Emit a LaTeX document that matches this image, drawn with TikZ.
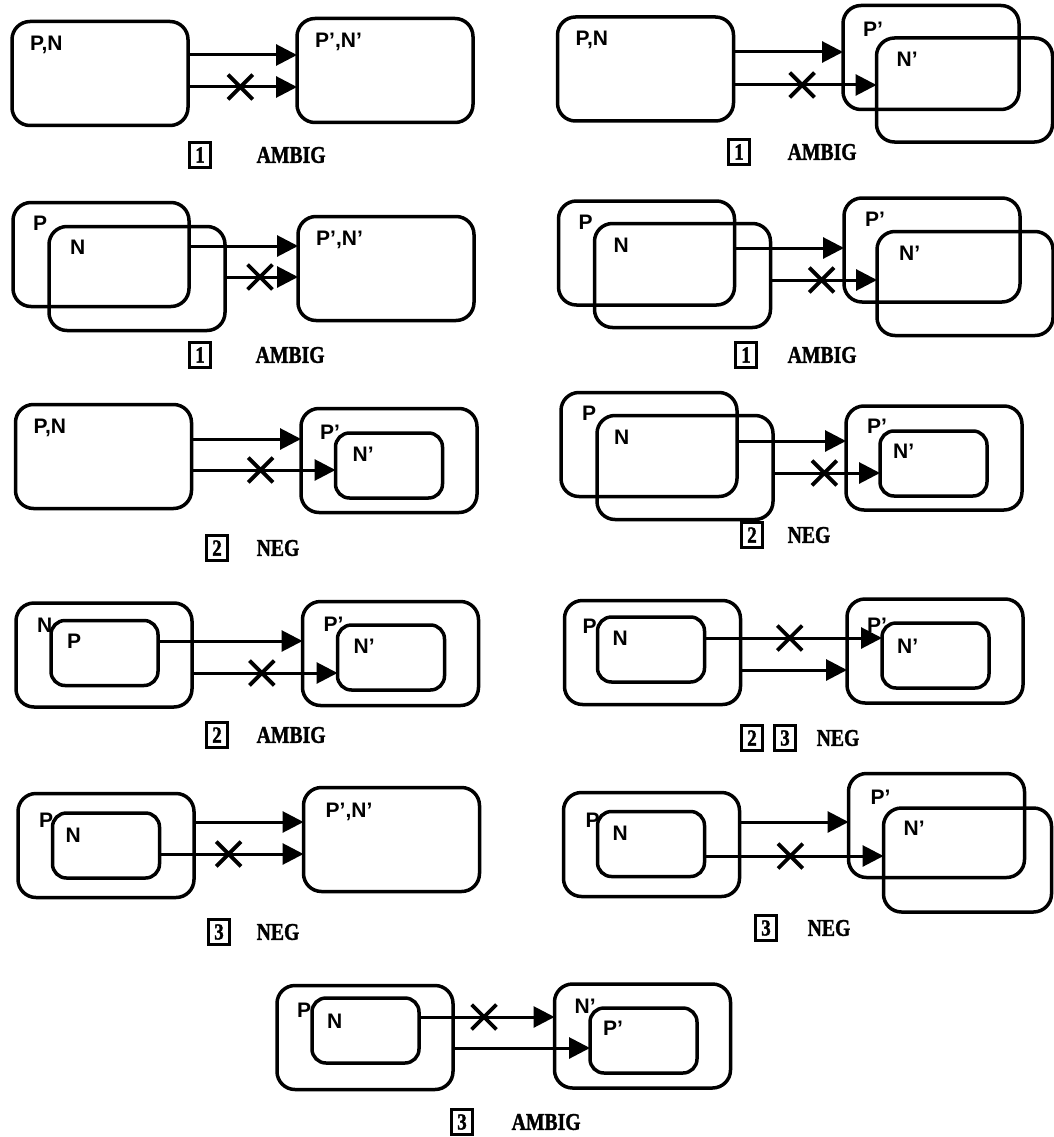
\documentclass[tikz,border=0pt]{standalone}
\usepackage{fontspec}
\setmainfont{Liberation Serif}
\setsansfont{Liberation Sans}
\newfontfamily\capfont{Liberation Serif Bold}[FakeStretch=0.82, FakeBold=1.5]
\usetikzlibrary{arrows.meta, positioning, shapes.misc}
\tikzset{
  region/.style={draw, rounded corners=18pt, line width=3.5pt, inner sep=0pt, outer sep=0pt},
  big/.style={region, minimum width=176pt, minimum height=104pt},
  small/.style={region, rounded corners=14pt, minimum width=107pt, minimum height=65pt},
  tag/.style={font=\sffamily\bfseries\fontsize{21}{21}\selectfont, inner sep=0pt},
  arrow/.style={line width=3pt, -{Triangle[length=21pt, width=21pt]}},
  xmark/.style={cross out, draw, line width=3.8pt, minimum size=21pt, inner sep=0pt, pos=0.48},
  numbox/.style={draw, line width=2.2pt, minimum width=21pt, minimum height=25pt, inner sep=0pt, outer sep=0pt, font=\capfont\fontsize{23}{23}\selectfont},
  word/.style={font=\capfont\fontsize{24}{24}\selectfont, inner sep=0pt}
}

\begin{document}
\begin{tikzpicture}[x=1pt, y=-1pt]

  \fill[white] (0,0) rectangle (1054,1137);
  \useasboundingbox (0,0) rectangle (1054,1137);

  % row 1, left
  \node (pn1) [big] at (100,73.5) {};
  \node (pnp1) [big] at (385,70.5) {};
  \node (pn1t) [tag, below right=14pt and 18pt of pn1.north west] {P,N};
  \node (pnp1t) [tag, below right=14pt and 18pt of pnp1.north west] {P',N'};
  \draw [arrow] (pn1.east |- 0,55) -- (pnp1.west |- 0,55);
  \draw [arrow] (pn1.east |- 0,87) -- node (x1) [xmark] {} (pnp1.west |- 0,87);
  \node (cap1) [numbox] at (200,155) {1};
  \node (word1) [word, right=46pt of cap1] {AMBIG};

  % row 1, right
  \node (pn2) [big] at (645.5,69) {};
  \node (pp2) [big] at (931,57.5) {};
  \node (np2) [big] at (964.5,90) {};
  \node (pn2t) [tag, below right=14pt and 18pt of pn2.north west] {P,N};
  \node (pp2t) [tag, below right=16pt and 20pt of pp2.north west] {P'};
  \node (np2t) [tag, below right=14pt and 20pt of np2.north west] {N'};
  \draw [arrow] (pn2.east |- 0,52) -- (pp2.west |- 0,52);
  \draw [arrow] (pn2.east |- 0,85) -- node (x2) [xmark] {} (np2.west |- 0,85);
  \node (cap2) [numbox] at (739,152) {1};
  \node (word2) [word, right=38pt of cap2] {AMBIG};

  % row 2, left
  \node (p3) [big] at (101,254.5) {};
  \node (n3) [big] at (137,278.5) {};
  \node (pnp3) [big] at (386,268.5) {};
  \node (p3t) [tag, below right=13pt and 20pt of p3.north west] {P};
  \node (n3t) [tag, below right=13pt and 21pt of n3.north west] {N};
  \node (pnp3t) [tag, below right=14pt and 18pt of pnp3.north west] {P',N'};
  \draw [arrow] (p3.east |- 0,246) -- (pnp3.west |- 0,246);
  \draw [arrow] (n3.east |- 0,277) -- node (x3) [xmark] {} (pnp3.west |- 0,277);
  \node (cap3) [numbox] at (200,355) {1};
  \node (word3) [word, right=45pt of cap3] {AMBIG};

  % row 2, right
  \node (p4) [big] at (646.5,253) {};
  \node (n4) [big] at (682.5,275.5) {};
  \node (pp4) [big] at (932,250) {};
  \node (np4) [big] at (965,283.5) {};
  \node (p4t) [tag, below right=14pt and 20pt of p4.north west] {P};
  \node (n4t) [tag, below right=14pt and 19pt of n4.north west] {N};
  \node (pp4t) [tag, below right=14pt and 21pt of pp4.north west] {P'};
  \node (np4t) [tag, below right=14pt and 22pt of np4.north west] {N'};
  \draw [arrow] (p4.east |- 0,248) -- (pp4.west |- 0,248);
  \draw [arrow] (n4.east |- 0,280) -- node (x4) [xmark] {} (np4.west |- 0,280);
  \node (cap4) [numbox] at (746,355) {1};
  \node (word4) [word, right=31pt of cap4] {AMBIG};

  % row 3, left
  \node (pn5) [big] at (103.5,456.5) {};
  \node (pp5) [big] at (389,460.5) {};
  \node (np5) [small] at (389,465.5) {};
  \node (pn5t) [tag, below right=14pt and 18pt of pn5.north west] {P,N};
  \node (pp5t) [tag, below right=16pt and 19pt of pp5.north west] {P'};
  \node (np5t) [tag, below right=14pt and 17pt of np5.north west] {N'};
  \draw [arrow] (pn5.east |- 0,439) -- (pp5.west |- 0,439);
  \draw [arrow] (pn5.east |- 0,470) -- node (x5) [xmark] {} (np5.west |- 0,470);
  \node (cap5) [numbox] at (217,548) {2};
  \node (word5) [word, right=29pt of cap5] {NEG};

  % row 3, right
  \node (p6) [big] at (649,444.5) {};
  \node (n6) [big] at (685,467.5) {};
  \node (pp6) [big] at (934,458) {};
  \node (np6) [small] at (933.5,463.5) {};
  \node (p6t) [tag, below right=13pt and 21pt of p6.north west] {P};
  \node (n6t) [tag, below right=14pt and 17pt of n6.north west] {N};
  \node (pp6t) [tag, below right=13pt and 21pt of pp6.north west] {P'};
  \node (np6t) [tag, below right=13pt and 13pt of np6.north west] {N'};
  \draw [arrow] (p6.east |- 0,441) -- (pp6.west |- 0,441);
  \draw [arrow] (n6.east |- 0,473) -- node (x6) [xmark] {} (np6.west |- 0,473);
  \node (cap6) [numbox] at (752,535) {2};
  \node (word6) [word, right=25pt of cap6] {NEG};

  % row 4, left
  \node (n7) [big] at (104,655) {};
  \node (p7) [small] at (104.5,653) {};
  \node (pp7) [big] at (390.5,653.5) {};
  \node (np7) [small] at (391,657.5) {};
  \node (n7t) [tag, below right=15pt and 21pt of n7.north west] {N};
  \node (p7t) [tag, below right=13pt and 16pt of p7.north west] {P};
  \node (pp7t) [tag, below right=15pt and 21pt of pp7.north west] {P'};
  \node (np7t) [tag, below right=14pt and 16pt of np7.north west] {N'};
  \draw [arrow] (p7.east |- 0,641) -- (pp7.west |- 0,641);
  \draw [arrow] (n7.east |- 0,673) -- node (x7) [xmark] {} (np7.west |- 0,673);
  \node (cap7) [numbox] at (217,735) {2};
  \node (word7) [word, right=29pt of cap7] {AMBIG};

  % row 4, right
  \node (p8) [big] at (652.5,652.5) {};
  \node (n8) [small] at (651,649.5) {};
  \node (pp8) [big] at (935,651) {};
  \node (np8) [small] at (935.5,655.5) {};
  \node (p8t) [tag, below right=18pt and 18pt of p8.north west] {P};
  \node (n8t) [tag, below right=14pt and 15pt of n8.north west] {N};
  \node (pp8t) [tag, below right=19pt and 20pt of pp8.north west] {P'};
  \node (np8t) [tag, below right=16pt and 15pt of np8.north west] {N'};
  \draw [arrow] (n8.east |- 0,638) -- node (x8) [xmark] {} (np8.west |- 0,638);
  \draw [arrow] (p8.east |- 0,670) -- (pp8.west |- 0,670);
  \node (cap8a) [numbox] at (752,738) {2};
  \node (cap8b) [numbox, right=12pt of cap8a] {3};
  \node (word8) [word, right=21pt of cap8b] {NEG};

  % row 5, left
  \node (p9) [big] at (106,845.5) {};
  \node (n9) [small] at (106,845.5) {};
  \node (pnp9) [big] at (391.5,839.5) {};
  \node (p9t) [tag, below right=19pt and 21pt of p9.north west] {P};
  \node (n9t) [tag, below right=15pt and 13pt of n9.north west] {N};
  \node (pnp9t) [tag, below right=15pt and 22pt of pnp9.north west] {P',N'};
  \draw [arrow] (p9.east |- 0,822) -- (pnp9.west |- 0,822);
  \draw [arrow] (n9.east |- 0,854) -- node (x9) [xmark] {} (pnp9.west |- 0,854);
  \node (cap9) [numbox] at (219,932) {3};
  \node (word9) [word, right=27pt of cap9] {NEG};

  % row 5, right
  \node (p10) [big] at (651.5,844.5) {};
  \node (n10) [small] at (651,844) {};
  \node (pp10) [big] at (936.5,825.5) {};
  \node (np10) [big, minimum width=168pt] at (967.5,860) {};
  \node (p10t) [tag, below right=20pt and 22pt of p10.north west] {P};
  \node (n10t) [tag, below right=14pt and 15pt of n10.north west] {N};
  \node (pp10t) [tag, below right=16pt and 22pt of pp10.north west] {P'};
  \node (np10t) [tag, below right=13pt and 20pt of np10.north west] {N'};
  \draw [arrow] (p10.east |- 0,822) -- (pp10.west |- 0,822);
  \draw [arrow] (n10.east |- 0,856) -- node (x10) [xmark] {} (np10.west |- 0,856);
  \node (cap10) [numbox] at (766,928) {3};
  \node (word10) [word, right=31pt of cap10] {NEG};

  % bottom row
  \node (p11) [big] at (365,1037.5) {};
  \node (n11) [small] at (365.5,1030.5) {};
  \node (np11) [big] at (642.5,1036) {};
  \node (pp11) [small] at (643.5,1040.5) {};
  \node (p11t) [tag, below right=17pt and 20pt of p11.north west] {P};
  \node (n11t) [tag, below right=16pt and 15pt of n11.north west] {N};
  \node (np11t) [tag, below right=15pt and 20pt of np11.north west] {N'};
  \node (pp11t) [tag, below right=13pt and 13pt of pp11.north west] {P'};
  \draw [arrow] (n11.east |- 0,1017) -- node (x11) [xmark] {} (np11.west |- 0,1017);
  \draw [arrow] (p11.east |- 0,1048) -- (pp11.west |- 0,1048);
  \node (cap11) [numbox] at (462,1122) {3};
  \node (word11) [word, right=39pt of cap11] {AMBIG};

\end{tikzpicture}
\end{document}
